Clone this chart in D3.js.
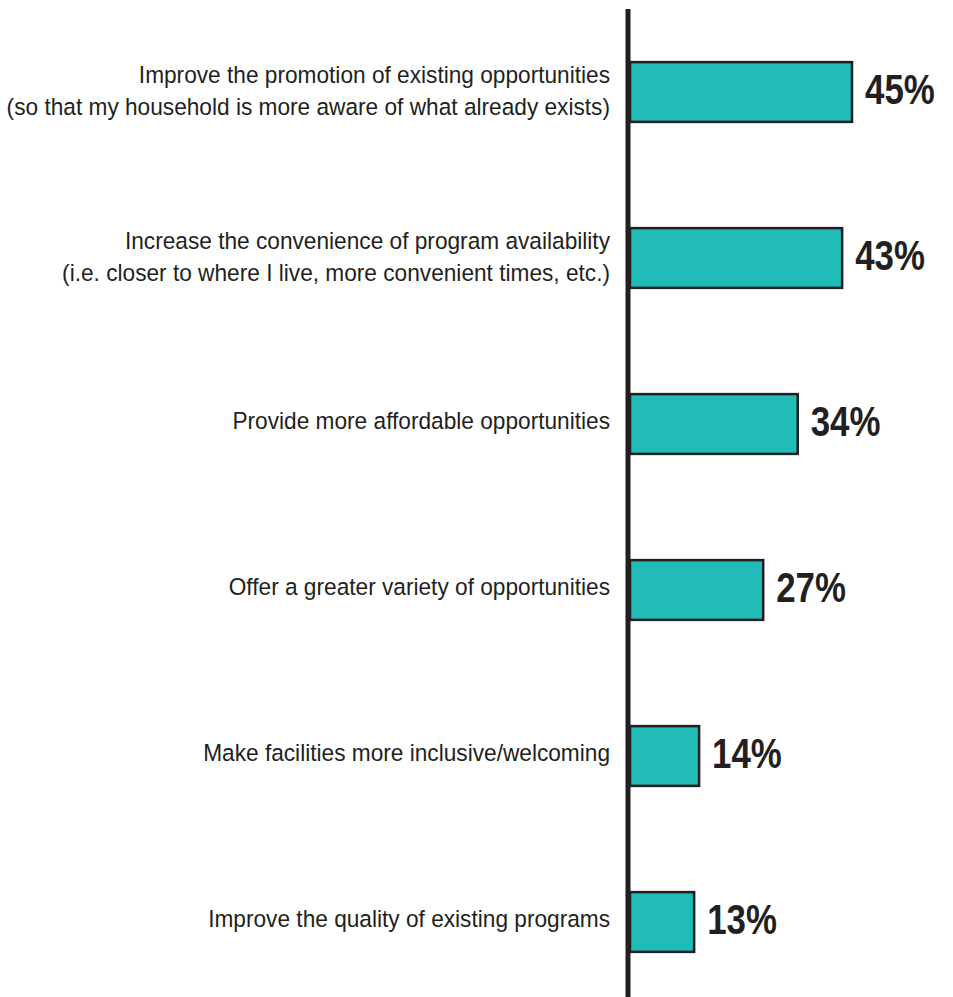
<!DOCTYPE html>
<html><head><meta charset="utf-8">
<script src="https://cdn.jsdelivr.net/npm/d3@7"></script>
<style>body{margin:0;background:#fff}</style>
</head><body>
<svg id="c" width="953" height="997"></svg>
<script>
const categories = [
  ["Improve the promotion of existing opportunities","(so that my household is more aware of what already exists)"],
  ["Increase the convenience of program availability","(i.e. closer to where I live, more convenient times, etc.)"],
  ["Provide more affordable opportunities"],
  ["Offer a greater variety of opportunities"],
  ["Make facilities more inclusive/welcoming"],
  ["Improve the quality of existing programs"]
];
const values = [45, 43, 34, 27, 14, 13];
const valueLabels = ["45%","43%","34%","27%","14%","13%"];

const svg = d3.select("#c");
const x0 = 630;
const x = d3.scaleLinear().domain([0, 45]).range([x0, 852]);
const y = d3.scaleBand().domain(d3.range(values.length)).range([9, 1005]).paddingInner(0.64).paddingOuter(0.32);

const font = "'Liberation Sans',Arial,Helvetica,sans-serif";
const labelScaleX = 0.965;
const valueScaleX = 0.83;

const g = svg.append("g");
g.selectAll("rect.bar").data(values).join("rect")
  .attr("class","bar")
  .attr("x", x0)
  .attr("y", (d,i)=>y(i))
  .attr("width", d=>x(d)-x0)
  .attr("height", y.bandwidth())
  .attr("fill","#22bcb8")
  .attr("stroke","#231f20")
  .attr("stroke-width",2.5);

g.append("line").attr("x1",628).attr("x2",628).attr("y1",9).attr("y2",997)
  .attr("stroke","#231f20").attr("stroke-width",5);

g.selectAll("g.val").data(values).join("g")
  .attr("class","val")
  .attr("transform", (d,i)=>`translate(${x(d)+13},${y(i)+y.bandwidth()/2+12}) scale(${valueScaleX},1)`)
  .append("text")
  .attr("font-family", font)
  .attr("font-weight","bold")
  .attr("font-size",42)
  .attr("fill","#231f20")
  .text((d,i)=>valueLabels[i]);

categories.forEach((lines,i)=>{
  const cy = y(i)+y.bandwidth()/2;
  const lh = 32.5;
  const off = lines.length > 1 ? 7 : 5;
  const t = g.append("g")
    .attr("transform",`translate(610,${cy+off}) scale(${labelScaleX},1)`)
    .append("text")
    .attr("text-anchor","end")
    .attr("font-family", font)
    .attr("font-size",23.5)
    .attr("fill","#231f20");
  lines.forEach((s,k)=>{
    t.append("tspan").attr("x",0)
      .attr("y", (k - (lines.length-1)/2)*lh)
      .text(s);
  });
});
</script>
</body></html>
